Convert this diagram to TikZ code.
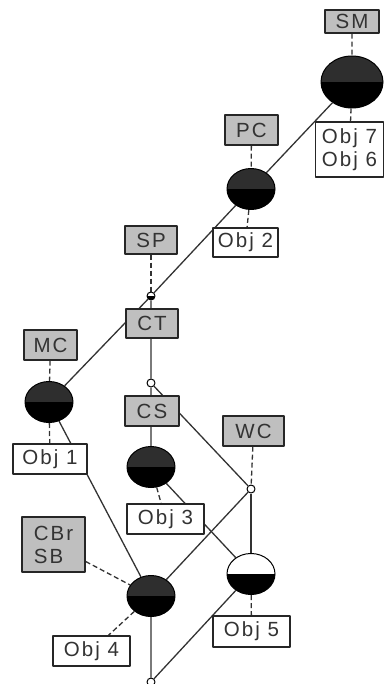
\documentclass[tikz,border=0pt]{standalone}
\usepackage{fontspec}
\setmainfont{Liberation Sans}[LetterSpace=10]
\usetikzlibrary{shapes.geometric,backgrounds}

\begin{document}
\begin{tikzpicture}[x=1pt, y=-1pt, font=\fontsize{20.5}{23}\selectfont, line join=round, line cap=round,
	attr/.style={draw=black!85, fill=black!25, text=black!80, line width=1.4pt, inner sep=0pt, minimum height=30},
	obj/.style={draw=black!85, fill=white, text=black!80, line width=1.4pt, inner sep=0pt, minimum height=30},
	lowhalf/.style={path picture={\fill[black] (path picture bounding box.west) rectangle (path picture bounding box.south east);}},
	con/.style={ellipse, draw=black, line width=1pt, fill=black!82, minimum width=48, minimum height=41, inner sep=0pt, lowhalf},
	half/.style={con, fill=white},
	dot/.style={circle, draw=black, line width=1pt, fill=white, minimum size=8, inner sep=0pt},
	link/.style={black!80, line width=1.3pt},
	dashlink/.style={black!80, line width=1.3pt, dash pattern=on 5pt off 3pt}]
	\useasboundingbox (0,0) rectangle (384,684);
	% concepts
	\node[con, minimum width=62, minimum height=52] (cSM) at (352,82) {};
	\node[con] (cPC) at (251,189) {};
	\node[dot, lowhalf] (cSP) at (151,296) {};
	\node[con] (cMC) at (49,402) {};
	\node[dot] (cCT) at (151,383) {};
	\node[con] (cCS) at (151,467) {};
	\node[dot] (cWC) at (251,489) {};
	\node[con] (cCB) at (151,596) {};
	\node[half] (cO5) at (251,574) {};
	\node[dot] (cBot) at (151,682) {};
	% labels
	\node[attr, minimum width=54, minimum height=23] (lSM) at (352,21.5) {SM};
	\node[obj, minimum width=68, minimum height=55, align=left] (lO76) at (349.5,149.5) {Obj 7\\Obj 6};
	\node[attr, minimum width=53] (lPC) at (251.5,130) {PC};
	\node[obj, minimum width=65, minimum height=29] (lO2) at (245.5,242.5) {Obj 2};
	\node[attr, minimum width=52, minimum height=28] (lSP) at (151,240) {SP};
	\node[attr, minimum width=52, minimum height=29] (lCT) at (152,323.5) {CT};
	\node[attr, minimum width=53] (lMC) at (50.5,345) {MC};
	\node[obj, minimum width=74] (lO1) at (50,459) {Obj 1};
	\node[attr, minimum width=54] (lCS) at (152,411) {CS};
	\node[attr, minimum width=61] (lWC) at (253.5,431) {WC};
	\node[obj, minimum width=77] (lO3) at (165.5,519) {Obj 3};
	\node[attr, minimum width=63, minimum height=55, align=left] (lCB) at (53.5,544.5) {CBr\\SB};
	\node[obj, minimum width=77] (lO4) at (91.5,651) {Obj 4};
	\node[obj, minimum width=77, minimum height=31] (lO5) at (251.5,631.5) {Obj 5};
	\begin{scope}[on background layer]
		\draw[link] (cSM) -- (cPC) -- (cSP) -- (cMC) -- (cCB) -- (cBot);
		\draw[link] (cSP) -- (cCT) -- (cCS) -- (cO5) -- (cBot);
		\draw[link] (cCT) -- (cWC) -- (cCB);
		\draw[link] (cWC) -- (cO5);
		\draw[dashlink] (lSM) -- (cSM) -- (lO76);
		\draw[dashlink] (lPC) -- (cPC) -- (lO2);
		\draw[dashlink] (lSP) -- (cSP);
		\draw[dashlink] (lMC) -- (cMC) -- (lO1);
		\draw[dashlink] (cCS) -- (lO3);
		\draw[dashlink] (lWC) -- (cWC);
		\draw[dashlink] (lCB) -- (cCB) -- (lO4);
		\draw[dashlink] (cO5) -- (lO5);
	\end{scope}
\end{tikzpicture}
\end{document}
